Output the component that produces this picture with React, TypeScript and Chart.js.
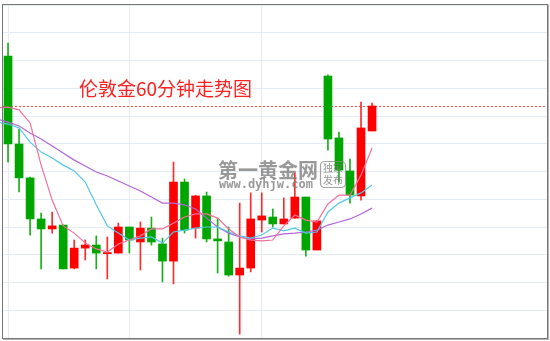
import React, { useEffect, useRef } from 'react';
import { Chart, registerables } from 'chart.js';

Chart.register(...registerables);

const TITLE = '伦敦金60分钟走势图';
const BRAND = '第一黄金网';
const SITE = 'www.dyhjw.com';
const BADGE_TOP = '独家';
const BADGE_BOTTOM = '发布';

// Hourly bars, oldest first
const opens = [
  1291.53, 1290.16, 1286.99, 1285.77, 1284.29, 1283.93, 1284.07, 1282.52, 1283.24, 1283.35,
  1283.04, 1283.06, 1284.0, 1283.46, 1283.96, 1283.39, 1282.77, 1285.62, 1283.96, 1285.12,
  1283.57, 1283.46, 1282.27, 1282.52, 1284.25, 1284.36, 1284.11, 1284.32, 1285.08, 1283.17,
  1289.44, 1287.21, 1286.02, 1285.12, 1287.46,
];
const highs = [
  1291.64, 1290.63, 1287.53, 1285.8, 1284.5, 1284.54, 1284.07, 1283.53, 1283.53, 1283.68,
  1283.64, 1284.14, 1284.0, 1284.18, 1284.36, 1283.6, 1286.34, 1285.73, 1285.14, 1285.26,
  1284.32, 1284.0, 1284.86, 1285.23, 1285.23, 1284.65, 1285.05, 1285.95, 1285.08, 1284.22,
  1289.48, 1287.42, 1286.45, 1288.5, 1288.47,
];
const lows = [
  1291.1, 1286.34, 1285.26, 1283.71, 1282.49, 1283.78, 1282.49, 1282.49, 1282.81, 1282.49,
  1282.13, 1283.06, 1283.06, 1282.45, 1283.35, 1282.02, 1281.95, 1283.78, 1283.6, 1283.46,
  1282.34, 1282.23, 1280.14, 1282.38, 1283.82, 1284.0, 1284.11, 1284.32, 1282.95, 1283.17,
  1286.77, 1285.62, 1284.86, 1284.97, 1287.46,
];
const closes = [
  1291.14, 1286.99, 1285.77, 1284.29, 1283.93, 1284.04, 1282.49, 1283.24, 1283.35, 1283.06,
  1283.08, 1284.0, 1283.53, 1283.96, 1283.46, 1282.77, 1285.62, 1283.89, 1285.12, 1283.57,
  1283.5, 1282.27, 1282.52, 1284.29, 1284.4, 1284.11, 1284.29, 1285.08, 1283.17, 1284.22,
  1287.17, 1286.05, 1285.15, 1287.57, 1288.36,
];

// Moving averages
const ma5 = [
  1288.29, 1288.32, 1288.22, 1287.75, 1286.23, 1284.97, 1284.04, 1283.78, 1283.42, 1283.21,
  1283.1, 1283.39, 1283.53, 1283.68, 1283.93, 1283.93, 1284.14, 1284.36, 1284.47, 1284.47,
  1284.32, 1283.93, 1283.64, 1283.53, 1283.5, 1283.53, 1284.04, 1284.43, 1284.25, 1284.18,
  1284.83, 1285.15, 1285.15, 1285.87, 1286.85,
];
const ma10 = [
  1287.78, 1287.71, 1287.57, 1287.06, 1286.7, 1286.49, 1286.23, 1286.02, 1285.62, 1284.8,
  1284.04, 1283.78, 1283.53, 1283.6, 1283.64, 1283.42, 1283.82, 1283.89, 1283.96, 1284.0,
  1284.0, 1283.82, 1283.68, 1283.6, 1283.71, 1283.96, 1283.86, 1283.96, 1283.78, 1283.82,
  1284.54, 1284.86, 1285.05, 1285.23, 1285.51,
];
const ma20 = [
  1287.89, 1287.78, 1287.64, 1287.39, 1287.17, 1286.92, 1286.67, 1286.41, 1286.2, 1285.98,
  1285.84, 1285.66, 1285.48, 1285.3, 1285.08, 1284.86, 1284.86, 1284.8, 1284.65, 1284.32,
  1284.0, 1283.78, 1283.64, 1283.57, 1283.6, 1283.68, 1283.75, 1283.78, 1283.82, 1283.89,
  1284.07, 1284.18, 1284.29, 1284.47, 1284.68,
];

// Bars where a vertical separator is drawn
const sessionMarks = [1, 12, 24];

const priceMin = 1280;
const priceMax = 1292;
const priceStep = 1;
const slotMin = 0.544;
const slotMax = 49.86;

const UP = '#ff0000';
const DOWN = '#00a600';
const GRID = '#e4ebf2';

const isUp = (i: number) => closes[i] >= opens[i];

function roundRect(ctx: CanvasRenderingContext2D, x: number, y: number, w: number, h: number, r: number) {
  ctx.beginPath();
  ctx.moveTo(x + r, y);
  ctx.lineTo(x + w - r, y);
  ctx.arcTo(x + w, y, x + w, y + r, r);
  ctx.lineTo(x + w, y + h - r);
  ctx.arcTo(x + w, y + h, x + w - r, y + h, r);
  ctx.lineTo(x + r, y + h);
  ctx.arcTo(x, y + h, x, y + h - r, r);
  ctx.lineTo(x, y + r);
  ctx.arcTo(x, y, x + r, y, r);
  ctx.closePath();
}

const decor = {
  id: 'decor',
  beforeDatasetsDraw(chart: any) {
    const { ctx, chartArea: a, scales } = chart;
    const last = closes[closes.length - 1];
    const py = Math.round(scales.y.getPixelForValue(last)) + 0.5;
    ctx.save();
    ctx.strokeStyle = '#ff4a4a';
    ctx.lineWidth = 1;
    ctx.setLineDash([2, 2]);
    ctx.beginPath();
    ctx.moveTo(a.left, py);
    ctx.lineTo(a.right, py);
    ctx.stroke();
    ctx.restore();

    ctx.save();
    ctx.fillStyle = '#ff2020';
    ctx.font = '19px "Noto Sans CJK SC"';
    ctx.textBaseline = 'middle';
    ctx.fillText(TITLE, 79, 88.5);
    ctx.restore();
  },
  afterDatasetsDraw(chart: any) {
    const { ctx } = chart;
    ctx.save();
    ctx.globalAlpha = 0.78;
    ctx.fillStyle = '#7c7c7c';
    ctx.textBaseline = 'middle';
    ctx.font = 'bold 20px "Noto Sans CJK SC"';
    ctx.fillText(BRAND, 218, 170);
    ctx.font = 'bold 12px "DejaVu Sans Mono"';
    ctx.fillText(SITE, 219, 185);
    ctx.strokeStyle = '#8a8a8a';
    ctx.lineWidth = 1.2;
    roundRect(ctx, 320.5, 161.5, 25, 26, 4);
    ctx.stroke();
    ctx.font = '10px "Noto Sans CJK SC"';
    ctx.textAlign = 'center';
    ctx.fillText(BADGE_TOP, 333, 168.5);
    ctx.fillText(BADGE_BOTTOM, 333, 180.5);
    ctx.restore();
  },
  afterDraw(chart: any) {
    const { ctx } = chart;
    ctx.save();
    ctx.strokeStyle = '#767676';
    ctx.lineWidth = 1;
    ctx.strokeRect(2.5, 4.5, 545, 334);
    ctx.strokeStyle = '#b4b4b4';
    ctx.beginPath();
    ctx.moveTo(548.5, 5);
    ctx.lineTo(548.5, 340);
    ctx.moveTo(3, 339.5);
    ctx.lineTo(549, 339.5);
    ctx.stroke();
    ctx.restore();
  },
};

export default function App() {
  const ref = useRef<HTMLCanvasElement | null>(null);

  useEffect(() => {
    if (!ref.current) return;
    const idx = opens.map((_, i) => i);
    const lineSet = (values: number[], color: string) => ({
      type: 'line' as const,
      data: values.map((v, i) => ({ x: i, y: v })),
      borderColor: color,
      borderWidth: 1.2,
      pointRadius: 0,
      tension: 0,
      clip: false as any,
      order: 0,
    });

    const chart = new Chart(ref.current, {
      type: 'bar',
      data: {
        datasets: [
          lineSet(ma5, '#f2709c'),
          lineSet(ma10, '#52c8e6'),
          lineSet(ma20, '#b266d6'),
          {
            type: 'bar',
            data: idx.map((i) => ({ x: i, y: [opens[i], closes[i]] })) as any,
            backgroundColor: (c: any) => (c.dataIndex !== undefined && isUp(c.dataIndex) ? UP : DOWN),
            borderWidth: 0,
            borderSkipped: false,
            barThickness: 8,
            grouped: false,
            order: 1,
          },
          {
            type: 'bar',
            data: idx.map((i) => ({ x: i, y: [lows[i], highs[i]] })) as any,
            backgroundColor: (c: any) => (c.dataIndex !== undefined && isUp(c.dataIndex) ? '#ff2a2a' : '#1aae1a'),
            borderWidth: 0,
            borderSkipped: false,
            barThickness: 1,
            grouped: false,
            order: 2,
          },
        ] as any,
      },
      options: {
        responsive: false,
        animation: false,
        devicePixelRatio: 1,
        layout: { padding: { left: 3, top: 5, right: 3, bottom: 3 } },
        plugins: {
          legend: { display: false },
          tooltip: { enabled: false },
          title: { display: false },
        },
        scales: {
          x: {
            type: 'linear',
            min: slotMin,
            max: slotMax,
            offset: false,
            afterBuildTicks: (scale: any) => {
              scale.ticks = sessionMarks.map((v) => ({ value: v }));
            },
            ticks: { display: false },
            grid: { color: GRID, lineWidth: 1, drawTicks: false, offset: false },
            border: { display: false },
          },
          y: {
            type: 'linear',
            min: priceMin,
            max: priceMax,
            ticks: { display: false, stepSize: priceStep },
            grid: { color: GRID, lineWidth: 1, drawTicks: false },
            border: { display: false },
          },
        },
      } as any,
      plugins: [decor],
    });
    return () => chart.destroy();
  }, []);

  return (
    <div style={{ position: 'fixed', left: 0, top: 0, width: 550, height: 341, background: '#fff' }}>
      <canvas ref={ref} width={550} height={341} style={{ display: 'block' }} />
    </div>
  );
}
